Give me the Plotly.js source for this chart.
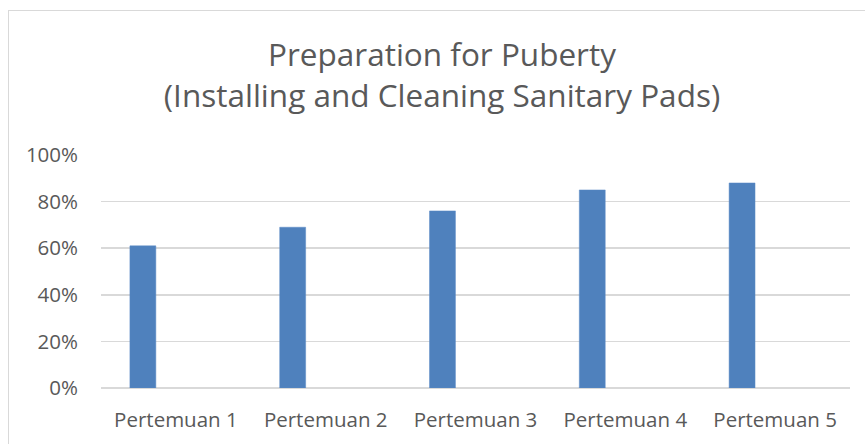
<!DOCTYPE html>
<html>
<head>
<meta charset="utf-8">
<script src="https://cdn.plot.ly/plotly-3.0.1.min.js"></script>
<style>
  html, body { margin: 0; padding: 0; background: #ffffff; overflow: hidden; }
  #wrap { position: relative; width: 865px; height: 444px; }
  #chart { position: absolute; left: 0; top: 0; width: 865px; height: 444px; }
  #frame { position: absolute; left: 8px; top: 10px; width: 900px; height: 500px;
           border: 1px solid #d9d9d9; box-sizing: border-box; pointer-events: none; }
</style>
</head>
<body>
<div id="wrap">
  <div id="chart"></div>
  <div id="frame"></div>
</div>
<script>
const categories = ["Pertemuan 1", "Pertemuan 2", "Pertemuan 3", "Pertemuan 4", "Pertemuan 5"];
const values = [0.61, 0.69, 0.76, 0.85, 0.88];
const yTickValues = [0, 0.2, 0.4, 0.6, 0.8, 1.0];
const yTickLabels = ["0%", "20%", "40%", "60%", "80%", "100%"];
const titleText = "Preparation for Puberty<br>(Installing and Cleaning Sanitary Pads)";

const textColor = "#595959";
const fontFamily = "'Open Sans', 'Noto Sans', sans-serif";

const trace = {
  type: "bar",
  x: categories,
  y: values,
  width: 0.173,
  offset: -0.307,
  marker: { color: "#4f81bd", line: { color: "#5a8ac6", width: 0.5 } },
  hoverinfo: "skip"
};

const layout = {
  width: 865,
  height: 444,
  paper_bgcolor: "rgba(0,0,0,0)",
  plot_bgcolor: "rgba(0,0,0,0)",
  margin: { l: 101, r: 15, t: 155, b: 56 },
  showlegend: false,
  font: { family: fontFamily, color: textColor },
  title: {
    text: titleText,
    font: { family: fontFamily, size: 31.5, color: textColor },
    xref: "container", x: 0.511, xanchor: "center",
    yref: "container", y: 1 - 66 / 444, yanchor: "top"
  },
  xaxis: {
    type: "category",
    showgrid: false,
    zeroline: false,
    showline: false,
    ticks: "",
    ticklabelstandoff: 17,
    tickfont: { family: fontFamily, size: 20.5, color: textColor },
    fixedrange: true
  },
  yaxis: {
    range: [0, 1.0],
    tickvals: yTickValues,
    ticktext: yTickLabels,
    showgrid: true,
    gridcolor: "#d9d9d9",
    gridwidth: 1.5,
    zeroline: true,
    zerolinecolor: "#d9d9d9",
    zerolinewidth: 1.5,
    showline: false,
    ticks: "",
    ticklabelstandoff: 22,
    tickfont: { family: fontFamily, size: 20.5, color: textColor },
    fixedrange: true
  }
};

Plotly.newPlot("chart", [trace], layout, { displayModeBar: false, staticPlot: true });
</script>
</body>
</html>
